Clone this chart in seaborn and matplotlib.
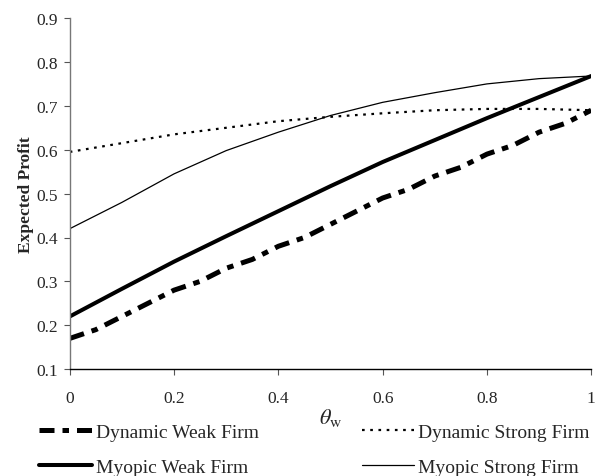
import matplotlib
matplotlib.use("Agg")
import matplotlib.pyplot as plt
import numpy as np
import pandas as pd
import seaborn as sns

# data
theta_fine = [0, 0.05, 0.1, 0.15, 0.2, 0.25, 0.3, 0.35, 0.4, 0.45, 0.5,
              0.55, 0.6, 0.65, 0.7, 0.75, 0.8, 0.85, 0.9, 0.95, 1.0]
dynamic_weak = [0.17, 0.19, 0.22, 0.25, 0.28, 0.30, 0.33, 0.35, 0.38, 0.40, 0.43,
                0.46, 0.49, 0.51, 0.54, 0.56, 0.59, 0.61, 0.64, 0.66, 0.69]

theta = [0, 0.1, 0.2, 0.3, 0.4, 0.5, 0.6, 0.7, 0.8, 0.9, 1.0]
dynamic_strong = [0.595, 0.615, 0.635, 0.65, 0.665, 0.675, 0.683, 0.69, 0.693, 0.693, 0.69]
myopic_weak = [0.22, 0.283, 0.345, 0.403, 0.46, 0.517, 0.572, 0.622, 0.672, 0.72, 0.768]
myopic_strong = [0.42, 0.48, 0.545, 0.598, 0.64, 0.678, 0.708, 0.73, 0.75, 0.762, 0.768]

x_ticks = [0, 0.2, 0.4, 0.6, 0.8, 1]
x_tick_labels = ["0", "0.2", "0.4", "0.6", "0.8", "1"]
y_ticks = [0.1, 0.2, 0.3, 0.4, 0.5, 0.6, 0.7, 0.8, 0.9]

sns.set_style("ticks")
plt.rcParams["font.family"] = ["Liberation Serif", "DejaVu Serif"]
plt.rcParams["mathtext.fontset"] = "stix"

fig = plt.figure(figsize=(5.96, 4.77), dpi=100)
ax = fig.add_axes([0.117, 0.224, 0.875, 0.736])

sns.lineplot(x=theta_fine, y=dynamic_weak, ax=ax, color="black", lw=3.6,
             linestyle=(0, (3.0, 1.6, 1.3, 1.6)), label="Dynamic Weak Firm")
sns.lineplot(x=theta, y=myopic_weak, ax=ax, color="black", lw=2.9,
             label="Myopic Weak Firm")
sns.lineplot(x=theta, y=dynamic_strong, ax=ax, color="black", lw=1.6,
             linestyle=(0, (1.2, 2.5)), label="Dynamic Strong Firm")
sns.lineplot(x=theta, y=myopic_strong, ax=ax, color="black", lw=0.9,
             label="Myopic Strong Firm")

ax.set_xlim(0, 1)
ax.set_ylim(0.1, 0.9)
ax.set_xticks(x_ticks)
ax.set_xticklabels(x_tick_labels)
ax.set_yticks(y_ticks)
ax.set_yticklabels([f"{v:.1f}" for v in y_ticks])
ax.tick_params(labelsize=12.5, length=4, width=0.8, color="#555555")
ax.tick_params(axis="x", pad=11)
ax.tick_params(axis="y", pad=4.5)
sns.despine(ax=ax)
ax.spines["left"].set_color("#777777")
ax.spines["bottom"].set_color("black")
ax.spines["left"].set_linewidth(1.0)
ax.spines["bottom"].set_linewidth(1.0)

ax.set_ylabel("Expected Profit", fontsize=12.5, fontweight="bold", labelpad=2)
ax.set_xlabel(r"$\theta_{\mathrm{w}}$", fontsize=16, labelpad=0)

handles, labels = ax.get_legend_handles_labels()
ax.legend_.remove()
fig.legend(handles, labels, ncol=2, loc="lower left",
           bbox_to_anchor=(0.04, -0.033), frameon=False, fontsize=14,
           handlelength=2.7, handletextpad=0.2, columnspacing=5.3,
           labelspacing=0.9, borderpad=0.3)

fig.savefig("out.png", dpi=100, facecolor="white")
